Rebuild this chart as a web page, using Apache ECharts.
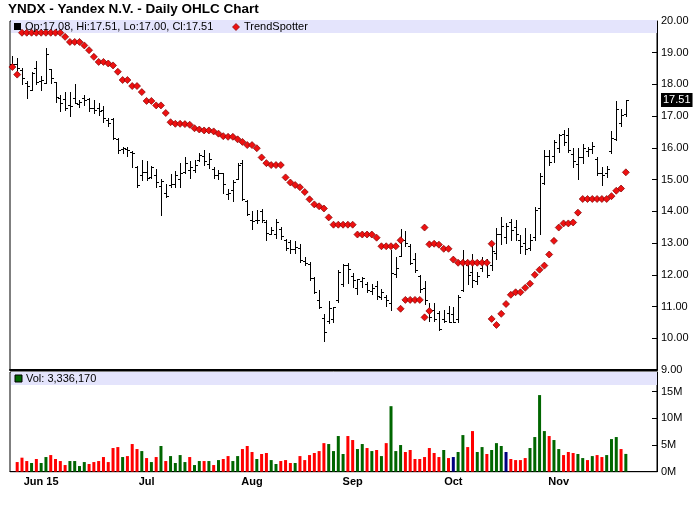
<!DOCTYPE html>
<html><head><meta charset="utf-8">
<script src="https://cdn.jsdelivr.net/npm/echarts@6/dist/echarts.min.js"></script>
<style>html,body{margin:0;padding:0;background:#fff}#c{width:700px;height:512px}</style>
</head><body><div id="c"></div>
<script>
// ---- data (trading days 2015-05-21 .. 2015-11-20) ----
const holidays = ['2015-05-25', '2015-07-03', '2015-09-07'];
const tickDates = ['2015-06-01', '2015-07-01', '2015-08-03', '2015-09-01', '2015-10-01', '2015-11-02'];
const tickLabels = ['Jun 15', 'Jul', 'Aug', 'Sep', 'Oct', 'Nov'];
const opens = [
  18.63,18.66,18.47,18.05,17.84,18.52,18.10,18.05,18.49,18.08,
  17.57,17.55,17.36,17.57,17.38,17.57,17.54,17.25,17.25,17.20,
  16.89,16.91,16.28,15.96,15.97,15.88,15.39,15.15,15.25,15.09,
  15.15,14.80,14.59,14.83,14.86,15.01,15.25,15.30,15.30,15.62,
  15.75,15.49,15.33,15.15,15.20,14.54,14.67,15.01,15.51,14.33,
  13.72,13.72,14.00,13.68,13.30,13.30,13.45,13.11,13.05,12.80,
  12.85,12.45,12.35,11.90,11.20,10.65,10.55,10.60,11.20,11.72,
  12.30,11.95,11.60,11.82,11.72,11.50,11.66,11.30,11.30,11.10,
  12.03,12.60,13.09,12.90,12.50,11.95,11.60,10.87,10.90,10.80,
  10.60,10.80,10.75,10.60,11.53,12.30,12.10,11.80,12.20,12.45,
  12.30,12.70,13.30,13.20,13.65,13.50,13.10,13.00,12.85,13.20,
  14.10,14.90,15.75,15.75,16.00,16.45,16.40,15.80,15.50,15.70,
  15.90,15.95,15.65,15.20,15.20,15.90,16.27,16.80,17.08];
const highs = [
  18.89,18.82,18.52,18.12,18.40,18.75,18.26,19.15,18.50,18.08,
  17.68,17.76,17.75,18.03,17.52,17.68,17.57,17.52,17.41,17.31,
  16.94,16.94,16.31,16.04,16.04,15.91,15.43,15.62,15.60,15.43,
  15.33,15.01,14.86,15.18,15.28,15.52,15.70,15.60,15.62,15.85,
  15.94,15.83,15.39,15.30,15.22,14.72,14.99,15.51,15.62,14.35,
  14.02,14.04,14.06,13.72,13.51,13.75,13.51,13.14,13.11,13.08,
  12.96,12.56,12.40,11.93,11.51,10.77,11.16,11.00,12.14,12.35,
  12.37,12.05,11.88,11.93,11.77,11.70,11.80,11.56,11.35,12.77,
  12.56,13.43,13.39,12.98,12.69,11.98,11.80,11.10,11.10,10.87,
  10.89,11.03,11.00,11.35,12.77,12.40,12.67,12.09,12.56,12.51,
  13.04,13.46,13.83,13.64,13.77,13.74,13.25,13.46,13.28,14.14,
  15.20,15.92,15.94,16.25,16.44,16.57,16.62,15.99,15.99,16.13,
  16.04,16.20,15.70,15.41,15.43,16.52,17.47,17.22,17.51];
const lows = [
  18.57,18.47,18.01,17.57,17.84,18.03,17.81,18.05,18.05,17.44,
  17.15,17.20,16.99,17.41,17.29,17.36,17.15,17.10,17.04,16.83,
  16.68,16.28,15.85,15.83,15.73,15.39,14.78,14.99,14.99,15.04,
  14.78,13.88,14.44,14.76,14.76,14.76,15.22,15.04,15.25,15.60,
  15.46,15.36,15.04,15.01,14.59,14.38,14.33,15.01,14.35,13.88,
  13.43,13.64,13.67,13.09,13.28,13.15,13.14,12.77,12.69,12.70,
  12.40,12.30,11.84,11.42,10.96,9.90,10.47,10.50,11.15,11.66,
  11.74,11.61,11.40,11.61,11.45,11.40,11.24,11.24,11.03,10.90,
  11.93,12.58,12.90,12.35,12.09,11.45,11.08,10.56,10.56,10.26,
  10.50,10.50,10.50,10.50,11.50,11.72,11.61,11.70,12.12,11.93,
  12.14,12.51,12.98,13.00,13.09,13.11,12.69,12.67,12.79,13.11,
  13.28,14.86,15.46,15.57,15.88,16.10,15.88,15.39,15.01,15.52,
  15.73,15.85,15.15,14.83,15.09,15.83,16.25,16.68,17.00];
const closes = [
  18.66,18.52,18.20,17.94,18.36,18.07,18.15,18.96,18.20,17.60,
  17.41,17.25,17.31,17.43,17.45,17.50,17.25,17.20,17.15,16.94,
  16.80,16.31,15.94,15.99,15.92,15.85,14.83,15.25,15.04,15.39,
  14.94,14.97,14.48,14.86,15.15,15.20,15.52,15.40,15.45,15.78,
  15.60,15.65,15.15,15.22,14.86,14.57,14.93,15.46,14.40,13.91,
  13.70,13.74,13.72,13.32,13.40,13.65,13.22,12.85,12.80,12.87,
  12.48,12.37,11.90,11.45,11.00,10.19,10.95,10.97,12.09,12.30,
  12.19,11.85,11.87,11.90,11.53,11.60,11.32,11.45,11.21,12.05,
  12.22,13.09,13.00,12.37,12.14,11.56,11.20,10.66,10.60,10.30,
  10.55,10.52,10.52,11.30,12.45,12.00,11.85,11.95,12.45,12.00,
  12.75,13.30,13.55,13.55,13.40,13.30,12.90,12.80,13.10,14.05,
  15.10,15.75,15.55,16.20,16.40,16.20,15.92,15.60,15.70,16.00,
  15.95,16.05,15.20,15.15,15.35,16.30,17.22,17.05,17.51];
const volumesM = [
  null,1.81,2.63,2.00,1.63,2.38,1.63,2.75,3.12,2.38,
  2.00,1.25,2.00,2.00,1.06,1.81,1.44,1.81,2.00,2.75,
  1.81,4.44,4.62,2.75,2.93,5.19,4.25,3.87,2.56,1.81,
  2.75,4.82,2.00,2.93,1.63,3.12,1.81,2.75,1.25,2.00,
  2.00,2.00,1.25,2.18,2.38,2.93,2.00,2.93,4.25,4.82,
  3.69,2.38,3.32,3.51,2.18,1.44,2.00,2.18,1.63,1.63,
  2.93,2.18,3.12,3.51,3.87,5.36,5.19,3.87,6.69,3.32,
  6.69,5.94,4.25,5.19,4.44,3.87,4.07,2.93,5.36,12.29,
  3.87,5.00,3.69,4.07,2.38,2.38,2.75,4.44,3.51,2.75,
  4.07,2.56,2.75,3.69,6.87,4.62,7.62,3.69,4.62,3.32,
  4.07,5.36,4.82,3.69,2.38,2.18,2.18,2.56,4.44,6.50,
  14.37,7.62,6.69,5.94,4.25,3.12,3.69,3.51,3.32,2.56,
  2.18,2.93,3.12,2.75,3.12,6.12,6.50,4.25,3.33617];
const N = null;
const trendUpper = [
  N,N,19.63,19.63,19.63,19.63,19.63,19.63,19.63,19.63,
  19.63,19.50,19.34,19.34,19.34,19.23,19.08,18.87,18.71,18.71,
  18.66,18.60,18.40,18.14,18.14,17.95,17.95,17.76,17.48,17.48,
  17.34,17.34,17.10,16.81,16.76,16.76,16.75,16.73,16.62,16.58,
  16.55,16.55,16.52,16.45,16.37,16.35,16.35,16.27,16.19,16.09,
  16.09,15.99,15.70,15.52,15.46,15.46,15.46,15.07,14.91,14.83,
  14.76,14.61,14.38,14.22,14.16,14.09,13.81,13.58,13.58,13.58,
  13.58,13.58,13.27,13.27,13.27,13.27,13.17,12.90,12.90,12.90,
  12.90,13.09,N,N,N,N,13.49,12.96,12.98,12.95,
  12.82,12.82,12.48,12.38,12.38,12.38,12.38,12.38,12.38,12.38,
  12.98,N,N,N,N,N,N,N,N,N,
  N,N,N,N,N,N,N,N,N,N,
  N,N,N,N,N,N,N,N,N];
const trendLower = [
  18.55,18.31,N,N,N,N,N,N,N,N,
  N,N,N,N,N,N,N,N,N,N,
  N,N,N,N,N,N,N,N,N,N,
  N,N,N,N,N,N,N,N,N,N,
  N,N,N,N,N,N,N,N,N,N,
  N,N,N,N,N,N,N,N,N,N,
  N,N,N,N,N,N,N,N,N,N,
  N,N,N,N,N,N,N,N,N,N,
  N,10.93,11.21,11.21,11.21,11.21,10.66,10.86,N,N,
  N,N,N,N,N,N,N,N,N,N,
  10.61,10.42,10.77,11.08,11.37,11.45,11.45,11.59,11.72,12.00,
  12.16,12.29,12.64,13.07,13.49,13.62,13.62,13.65,13.96,14.39,
  14.39,14.39,14.39,14.39,14.39,14.48,14.65,14.72,15.23];

// ---- categories: trading days + right padding ----
function tradingDays(start, end) {
  const out = [];
  const d = new Date(start + 'T12:00:00Z');
  const e = new Date(end + 'T12:00:00Z');
  while (d <= e) {
    const wd = d.getUTCDay();
    const s = d.toISOString().slice(0, 10);
    if (wd !== 0 && wd !== 6 && holidays.indexOf(s) < 0) out.push(s);
    d.setUTCDate(d.getUTCDate() + 1);
  }
  return out;
}
const dates = tradingDays('2015-05-21', '2015-11-20');
const padding = ['p1', 'p2', 'p3', 'p4', 'p5', 'p6'];
const categories = dates.concat(padding);

const FONT = '"Liberation Sans", Arial, sans-serif';
const GREEN = '#006600', RED = '#ff0000', NAVY = '#000080';

const ohlcData = dates.map((d, i) => [i, opens[i], highs[i], lows[i], closes[i]]);
const trendData = [];
trendUpper.forEach((v, i) => { if (v != null) trendData.push([i, v]); });
trendLower.forEach((v, i) => { if (v != null) trendData.push([i, v]); });
const volData = volumesM.map((v, i) => {
  if (v == null) return { value: null };
  const up = closes[i] > closes[i - 1], dn = closes[i] < closes[i - 1];
  return { value: v, itemStyle: { color: up ? GREEN : (dn ? RED : NAVY) } };
});

const last = dates.length - 1;
const legendText = 'Op:' + opens[last].toFixed(2) + ', Hi:' + highs[last].toFixed(2) +
  ', Lo:' + lows[last].toFixed(2) + ', Cl:' + closes[last].toFixed(2);
const volText = 'Vol: ' + Math.round(volumesM[last] * 1e6).toLocaleString('en-US');

function renderOHLC(params, api) {
  const i = api.value(0);
  const pO = api.coord([i, api.value(1)]);
  const pH = api.coord([i, api.value(2)]);
  const pL = api.coord([i, api.value(3)]);
  const pC = api.coord([i, api.value(4)]);
  const x = Math.round(pO[0]) + 0.5;
  const yo = Math.round(pO[1]) + 0.5, yc = Math.round(pC[1]) + 0.5;
  const st = { stroke: '#000', lineWidth: 1 };
  return { type: 'group', children: [
    { type: 'line', shape: { x1: x, y1: Math.round(pH[1]), x2: x, y2: Math.round(pL[1]) + 1 }, style: st },
    { type: 'line', shape: { x1: x - 2.5, y1: yo, x2: x - 0.5, y2: yo }, style: st },
    { type: 'line', shape: { x1: x + 0.5, y1: yc, x2: x + 2.5, y2: yc }, style: st }
  ] };
}

const chart = echarts.init(document.getElementById('c'), null, { renderer: 'canvas' });
const isTick = (idx, val) => tickDates.indexOf(val) >= 0;
chart.setOption({
  animation: false,
  backgroundColor: '#fff',
  textStyle: { fontFamily: FONT },
  grid: [
    { left: 10, width: 647, top: 21, height: 349, show: true, borderColor: '#000', borderWidth: 1, z: 0 },
    { left: 10, width: 647, top: 372, height: 99.7, show: true, borderColor: '#000', borderWidth: 1, z: 0 }
  ],
  xAxis: [
    { type: 'category', gridIndex: 0, data: categories, boundaryGap: true,
      axisLine: { show: true, lineStyle: { color: '#000', width: 2 } },
      axisTick: { show: false }, axisLabel: { show: false }, splitLine: { show: false } },
    { type: 'category', gridIndex: 1, data: categories, boundaryGap: true,
      axisLine: { show: true, lineStyle: { color: '#000', width: 1 } },
      axisTick: { show: true, inside: true, length: 3, alignWithLabel: true, interval: isTick, lineStyle: { color: '#000' } },
      axisLabel: { show: true, interval: isTick, margin: 5, color: '#000', fontWeight: 'bold', fontSize: 11, fontFamily: FONT,
        formatter: v => tickLabels[tickDates.indexOf(v)] || '' },
      splitLine: { show: false } }
  ],
  yAxis: [
    { type: 'value', gridIndex: 0, position: 'right', min: 9, max: 20, interval: 1,
      axisLine: { show: true, lineStyle: { color: '#000' } },
      axisTick: { show: true, inside: true, length: 5, lineStyle: { color: '#000' } },
      axisLabel: { color: '#000', fontSize: 11, fontFamily: FONT, margin: 4, formatter: v => v.toFixed(2) },
      splitLine: { show: false } },
    { type: 'value', gridIndex: 1, position: 'right', min: 0, max: 18.7, interval: 5,
      axisLine: { show: true, lineStyle: { color: '#000' } },
      axisTick: { show: true, inside: true, length: 5, lineStyle: { color: '#000' } },
      axisLabel: { color: '#000', fontSize: 11, fontFamily: FONT, margin: 4, showMaxLabel: false,
        formatter: v => (Math.abs(v % 5) < 1e-9 ? v + 'M' : '') },
      splitLine: { show: false } }
  ],
  series: [
    { name: 'OHLC', type: 'custom', xAxisIndex: 0, yAxisIndex: 0, renderItem: renderOHLC,
      encode: { x: 0, y: [1, 2, 3, 4] }, data: ohlcData, z: 3 },
    { name: 'TrendSpotter', type: 'scatter', xAxisIndex: 0, yAxisIndex: 0, data: trendData,
      symbol: 'diamond', symbolSize: 7, z: 4,
      itemStyle: { color: '#ee1111', borderColor: '#800000', borderWidth: 0.7, opacity: 1 },
      markLine: { silent: true, symbol: 'none', animation: false,
        lineStyle: { color: 'rgba(0,0,0,0)', width: 0 },
        label: { show: true, position: 'end', distance: 4, formatter: closes[last].toFixed(2),
          color: '#fff', backgroundColor: '#000', padding: [2, 2, 1, 2], fontSize: 11, fontFamily: FONT },
        data: [{ yAxis: closes[last] }] } },
    { name: 'Vol', type: 'bar', xAxisIndex: 1, yAxisIndex: 1, data: volData, barWidth: 3 }
  ],
  graphic: [
    { type: 'text', left: 8, top: 2, z: 10,
      style: { text: 'YNDX - Yandex N.V. - Daily OHLC Chart', font: 'bold 13.5px ' + FONT, fill: '#000' } },
    { type: 'rect', shape: { x: 11, y: 20, width: 646, height: 13 }, style: { fill: '#e4e4fc' }, z: 1 },
    { type: 'rect', shape: { x: 14, y: 23, width: 7, height: 7 }, style: { fill: '#000' }, z: 10 },
    { type: 'text', x: 25, y: 27, z: 10,
      style: { text: legendText, font: '11px ' + FONT, fill: '#000', textVerticalAlign: 'middle' } },
    { type: 'polygon', shape: { points: [[236, 23.5], [239.5, 27], [236, 30.5], [232.5, 27]] },
      style: { fill: '#ee1111', stroke: '#800000', lineWidth: 0.7 }, z: 10 },
    { type: 'text', x: 244, y: 27, z: 10,
      style: { text: 'TrendSpotter', font: '11px ' + FONT, fill: '#000', textVerticalAlign: 'middle' } },
    { type: 'rect', shape: { x: 11, y: 372, width: 646, height: 13 }, style: { fill: '#e4e4fc' }, z: 1 },
    { type: 'rect', shape: { x: 15, y: 375, width: 7, height: 7 }, style: { fill: GREEN, stroke: '#000', lineWidth: 1 }, z: 10 },
    { type: 'text', x: 26, y: 378.5, z: 10,
      style: { text: volText, font: '11px ' + FONT, fill: '#000', textVerticalAlign: 'middle' } }
  ]
});
</script></body></html>
